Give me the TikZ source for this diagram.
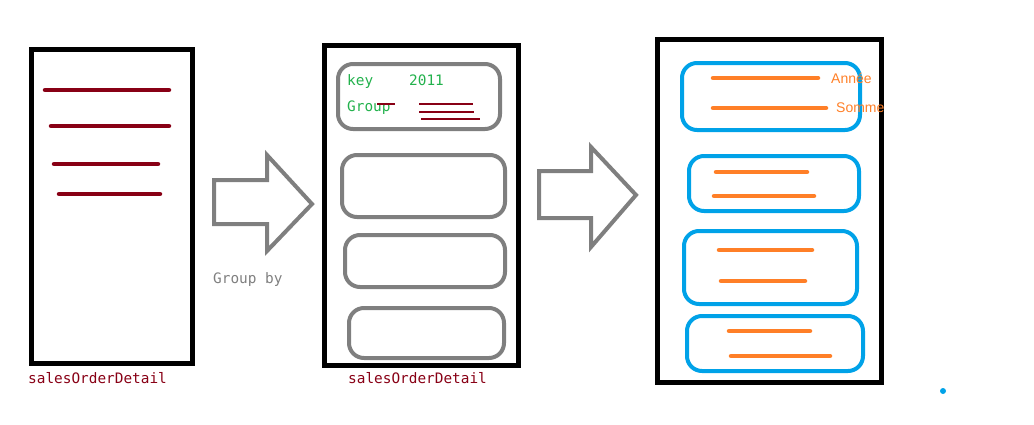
\documentclass[tikz,border=0pt]{standalone}
\usepackage{fontspec}
\setmonofont{DejaVu Sans Mono}
\setsansfont{Liberation Sans}
\definecolor{pdred}{HTML}{880015}
\definecolor{pgray}{HTML}{7F7F7F}
\definecolor{pgreen}{HTML}{22B14C}
\definecolor{pblue}{HTML}{00A2E8}
\definecolor{porange}{HTML}{FF7F27}
\tikzset{
  table/.style={draw=black,line width=5pt},
  graybox/.style={draw=pgray,line width=4pt,rounded corners=15pt},
  bluebox/.style={draw=pblue,line width=4pt,rounded corners=15pt},
  redline/.style={draw=pdred,line width=4.5pt,line cap=round},
  thinred/.style={draw=pdred,line width=1.3pt},
  orline/.style={draw=porange,line width=4.5pt,line cap=round},
  blockarrow/.style={draw=pgray,line width=4pt,line join=miter},
  mono/.style={inner sep=0pt,anchor=base west,font=\fontsize{14.4}{16}\ttfamily},
  sanslab/.style={inner sep=0pt,anchor=base west,font=\fontsize{14}{16}\sffamily,text=porange},
}
\begin{document}
\begin{tikzpicture}[x=1pt,y=-1pt]
\useasboundingbox (0,0) rectangle (1034,424);
% left table
\draw[table] (31.5,49.5) rectangle (192.5,363.5);
\draw[redline] (45,90) -- (169,90);
\draw[redline] (51,126) -- (169,126);
\draw[redline] (54,164) -- (158,164);
\draw[redline] (59,194) -- (160,194);
\node[mono,text=pdred] (l1) at (28,383) {salesOrderDetail};
% arrow 1
\draw[blockarrow] (214,180) -- (267,180) -- (267,155) -- (312,204) -- (267,251) -- (267,224) -- (214,224) -- cycle;
\node[mono,text=pgray] (gb) at (213,283) {Group by};
% middle table
\draw[table] (324.5,45.5) rectangle (518.5,365.5);
\draw[graybox] (338,64) rectangle (500,129);
\draw[graybox] (342,155) rectangle (505,217);
\draw[graybox] (345,235) rectangle (505,287);
\draw[graybox] (349,308) rectangle (504,358);
\node[mono,text=pgreen] (key) at (347,85) {key};
\node[mono,text=pgreen] (yr) at (409,85) {2011};
\node[mono,text=pgreen] (grp) at (347,111) {Group};
\draw[thinred] (377,104) -- (395,104);
\draw[thinred] (419,104) -- (473,104);
\draw[thinred] (419,112) -- (474,112);
\draw[thinred] (421,119) -- (480,119);
\node[mono,text=pdred] (l2) at (348,383) {salesOrderDetail};
% arrow 2
\draw[blockarrow] (539,171) -- (591,171) -- (591,147) -- (636,195) -- (591,247) -- (591,218) -- (539,218) -- cycle;
% right table
\draw[table] (657.5,39.5) rectangle (881.5,382);
\draw[bluebox] (682,63) rectangle (860,130);
\draw[bluebox] (689,156) rectangle (859,211);
\draw[bluebox] (684,231) rectangle (857,304);
\draw[bluebox] (687,316) rectangle (863,371);
\draw[orline] (713,78) -- (818,78);
\draw[orline] (713,108) -- (826,108);
\draw[orline] (716,172) -- (807,172);
\draw[orline] (714,196) -- (814,196);
\draw[orline] (719,250) -- (812,250);
\draw[orline] (721,281) -- (805,281);
\draw[orline] (729,331) -- (810,331);
\draw[orline] (731,356) -- (830,356);
\node[sanslab] (an) at (831,83) {Année};
\node[sanslab] (so) at (836,112) {Somme};
% dot
\fill[pblue] (943,391) circle (3pt);
\end{tikzpicture}
\end{document}
